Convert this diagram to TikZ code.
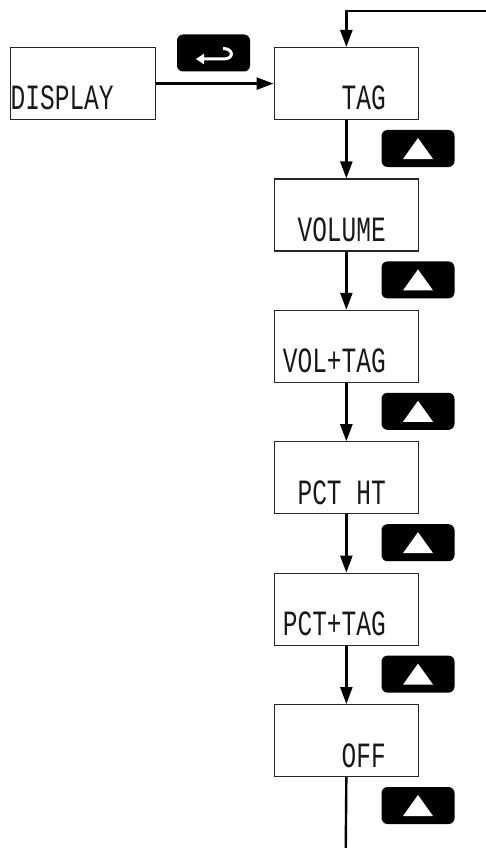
\documentclass[tikz,border=0pt]{standalone}
\usepackage{fontspec}
\newfontfamily\lcdfont{Liberation Mono}
\usetikzlibrary{arrows.meta}
\newcommand\lcdtext[1]{\scalebox{1}[1.45]{#1}}
\tikzset{
  lcdbox/.style={draw=black!85, line width=1.2pt, minimum width=144.5pt, minimum height=72pt, inner sep=0pt, anchor=north west},
  lcdtxt/.style={font=\lcdfont\fontsize{24.5}{24.5}\selectfont, inner sep=0pt, text=black!90},
  btn/.style={fill=black, rounded corners=6pt, minimum width=73pt, minimum height=37pt, inner sep=0pt},
  flow/.style={line width=2.4pt, -{Triangle[length=17pt,width=12pt]}},
  plainline/.style={line width=2.4pt}
}
\newcommand\upbtn[2]{%
  \node[btn] (#1) at (418,#2) {};
  \fill[white] (#1.center) ++(-15,10.5) -- ++(30,0) -- ++(-15,-21) -- cycle;
}
\begin{document}
\begin{tikzpicture}[x=1pt,y=-1pt]
\useasboundingbox (0,0) rectangle (486,848);
% boxes
\node[lcdbox] (disp) at (10,47) {};
\node[lcdtxt, anchor=base west] (dispt) at (10.5,110) {\lcdtext{DISPLAY}};
\node[lcdbox] (tag) at (273.5,47) {};
\node[lcdtxt, anchor=base east] (tagt) at (386,110) {\lcdtext{TAG}};
\node[lcdbox] (vol) at (273.5,178.4) {};
\node[lcdtxt, anchor=base east] (volt) at (386,241.4) {\lcdtext{VOLUME}};
\node[lcdbox] (voltag) at (273.5,309.8) {};
\node[lcdtxt, anchor=base east] (voltagt) at (386,372.8) {\lcdtext{VOL+TAG}};
\node[lcdbox] (pct) at (273.5,441.2) {};
\node[lcdtxt, anchor=base east] (pctt) at (386,504.2) {\lcdtext{PCT HT}};
\node[lcdbox] (pcttag) at (273.5,572.6) {};
\node[lcdtxt, anchor=base east] (pcttagt) at (386,635.6) {\lcdtext{PCT+TAG}};
\node[lcdbox] (off) at (273.5,704) {};
\node[lcdtxt, anchor=base east] (offt) at (386,767) {\lcdtext{OFF}};
% enter button
\node[btn] (enter) at (213.5,53) {};
\draw[white, line width=3pt, -{Triangle[length=8pt,width=10pt]}]
  (223,48.5) .. controls (234,48.5) and (234,59) .. (224,59) -- (196,59);
% up buttons
\upbtn{b1}{148.5}
\upbtn{b2}{279.9}
\upbtn{b3}{411.3}
\upbtn{b4}{542.7}
\upbtn{b5}{674.1}
\upbtn{b6}{805.5}
% connectors
\coordinate (loopin) at (486,11);
\coordinate (bottom) at (345.75,848);
\draw[flow] (disp.east) -- (tag.west);
\draw[flow] (loopin) -| (tag.north);
\draw[flow] (tag.south) -- (vol.north);
\draw[flow] (vol.south) -- (voltag.north);
\draw[flow] (voltag.south) -- (pct.north);
\draw[flow] (pct.south) -- (pcttag.north);
\draw[flow] (pcttag.south) -- (off.north);
\draw[plainline] (off.south) -- (bottom);
\end{tikzpicture}
\end{document}
